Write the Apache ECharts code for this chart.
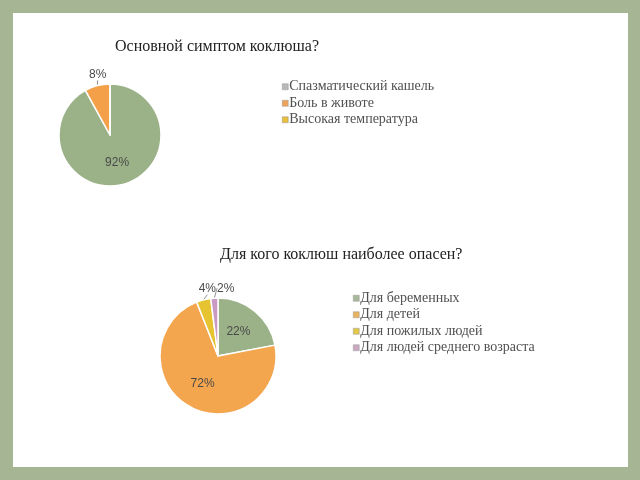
<!DOCTYPE html>
<html><head><meta charset="utf-8">
<script src="https://cdn.jsdelivr.net/npm/echarts@6/dist/echarts.min.js"></script>
<style>html,body{margin:0;padding:0;background:#a6b593;}#c{width:640px;height:480px;}</style>
</head><body><div id="c"></div>
<script>
var title1 = 'Основной симптом коклюша?';
var cats1 = ['Спазматический кашель', 'Боль в животе', 'Высокая температура'];
var vals1 = [92, 8, 0];
var title2 = 'Для кого коклюш наиболее опасен?';
var cats2 = ['Для беременных', 'Для детей', 'Для пожилых людей', 'Для людей среднего возраста'];
var vals2 = [22, 72, 4, 2];

var sliceColors1 = ['#9bb288', '#f4a048', '#e8c232'];
var legendColors1 = ['#b8b8b8', '#eea35a', '#e8be3c'];
var sliceColors2 = ['#9bb288', '#f4a64e', '#e6c431', '#c99bc2'];
var legendColors2 = ['#a9b89a', '#e9b35e', '#e2c748', '#c9a9c2'];

var labelFont = {fontFamily: 'Liberation Sans', fontSize: 12, color: '#4a4a4a'};

function buildData(cats, vals, colors) {
  var total = vals.reduce(function (a, b) { return a + b; }, 0);
  return cats.map(function (c, i) {
    var small = vals[i] / total < 0.1;
    return {
      name: c, value: vals[i],
      itemStyle: {color: colors[i]},
      label: vals[i] === 0 ? {show: false} : (small ? {position: 'outside'} : {position: 'inside'}),
      labelLine: {show: small && vals[i] > 0}
    };
  });
}
function legendData(cats, colors) {
  return cats.map(function (c, i) {
    return {name: c, itemStyle: {color: colors[i], borderColor: '#999', borderWidth: 0.5}};
  });
}
function makeOutsideAbove() {
  var prevRight = null;
  return function (params) {
    if (!params.labelLinePoints) return {};
    var r = params.rect;
    var w = params.labelRect.width;
    var x = r.x + r.width / 2, align = 'center';
    if (prevRight !== null && x - w / 2 < prevRight) {
      x = prevRight + 1;
      align = 'left';
      prevRight = x + w;
    } else {
      prevRight = x + w / 2;
    }
    return {x: x, y: r.y - 3, align: align, verticalAlign: 'bottom'};
  };
}

var chart = echarts.init(document.getElementById('c'));
var titleStyle = {fontFamily: 'Liberation Serif', fontSize: 16, fontWeight: 'normal', color: '#222'};
var legendText = {fontFamily: 'Liberation Serif', fontSize: 14, color: '#505050', lineHeight: 16.5, padding: [0, 0, 0, -4]};
chart.setOption({
  animation: false,
  backgroundColor: '#a6b593',
  graphic: [{type: 'rect', shape: {x: 13, y: 13, width: 615, height: 454}, style: {fill: '#ffffff'}, z: -10}],
  title: [
    {text: title1, left: 110, top: 34, textStyle: titleStyle},
    {text: title2, left: 215, top: 242, textStyle: titleStyle}
  ],
  legend: [
    {orient: 'vertical', left: 277, top: 73.5, itemWidth: 6, itemHeight: 6, itemGap: 0, icon: 'rect', selectedMode: false,
     data: legendData(cats1, legendColors1), textStyle: legendText},
    {orient: 'vertical', left: 348, top: 285, itemWidth: 6, itemHeight: 6, itemGap: 0, icon: 'rect', selectedMode: false,
     data: legendData(cats2, legendColors2), textStyle: legendText}
  ],
  series: [
    {type: 'pie', center: [110, 135], radius: 51, startAngle: 90, clockwise: true, percentPrecision: 0,
     itemStyle: {borderColor: '#fff', borderWidth: 1.5},
     label: Object.assign({formatter: '{d}%'}, labelFont),
     labelLine: {length: 6, length2: 0, lineStyle: {color: '#777', width: 0.8}},
     labelLayout: makeOutsideAbove(),
     data: buildData(cats1, vals1, sliceColors1)},
    {type: 'pie', center: [218, 356], radius: 58, startAngle: 90, clockwise: true, percentPrecision: 0,
     itemStyle: {borderColor: '#fff', borderWidth: 1.5},
     label: Object.assign({formatter: '{d}%'}, labelFont),
     labelLine: {length: 6, length2: 0, lineStyle: {color: '#777', width: 0.8}},
     labelLayout: makeOutsideAbove(),
     data: buildData(cats2, vals2, sliceColors2)}
  ]
});
</script></body></html>
